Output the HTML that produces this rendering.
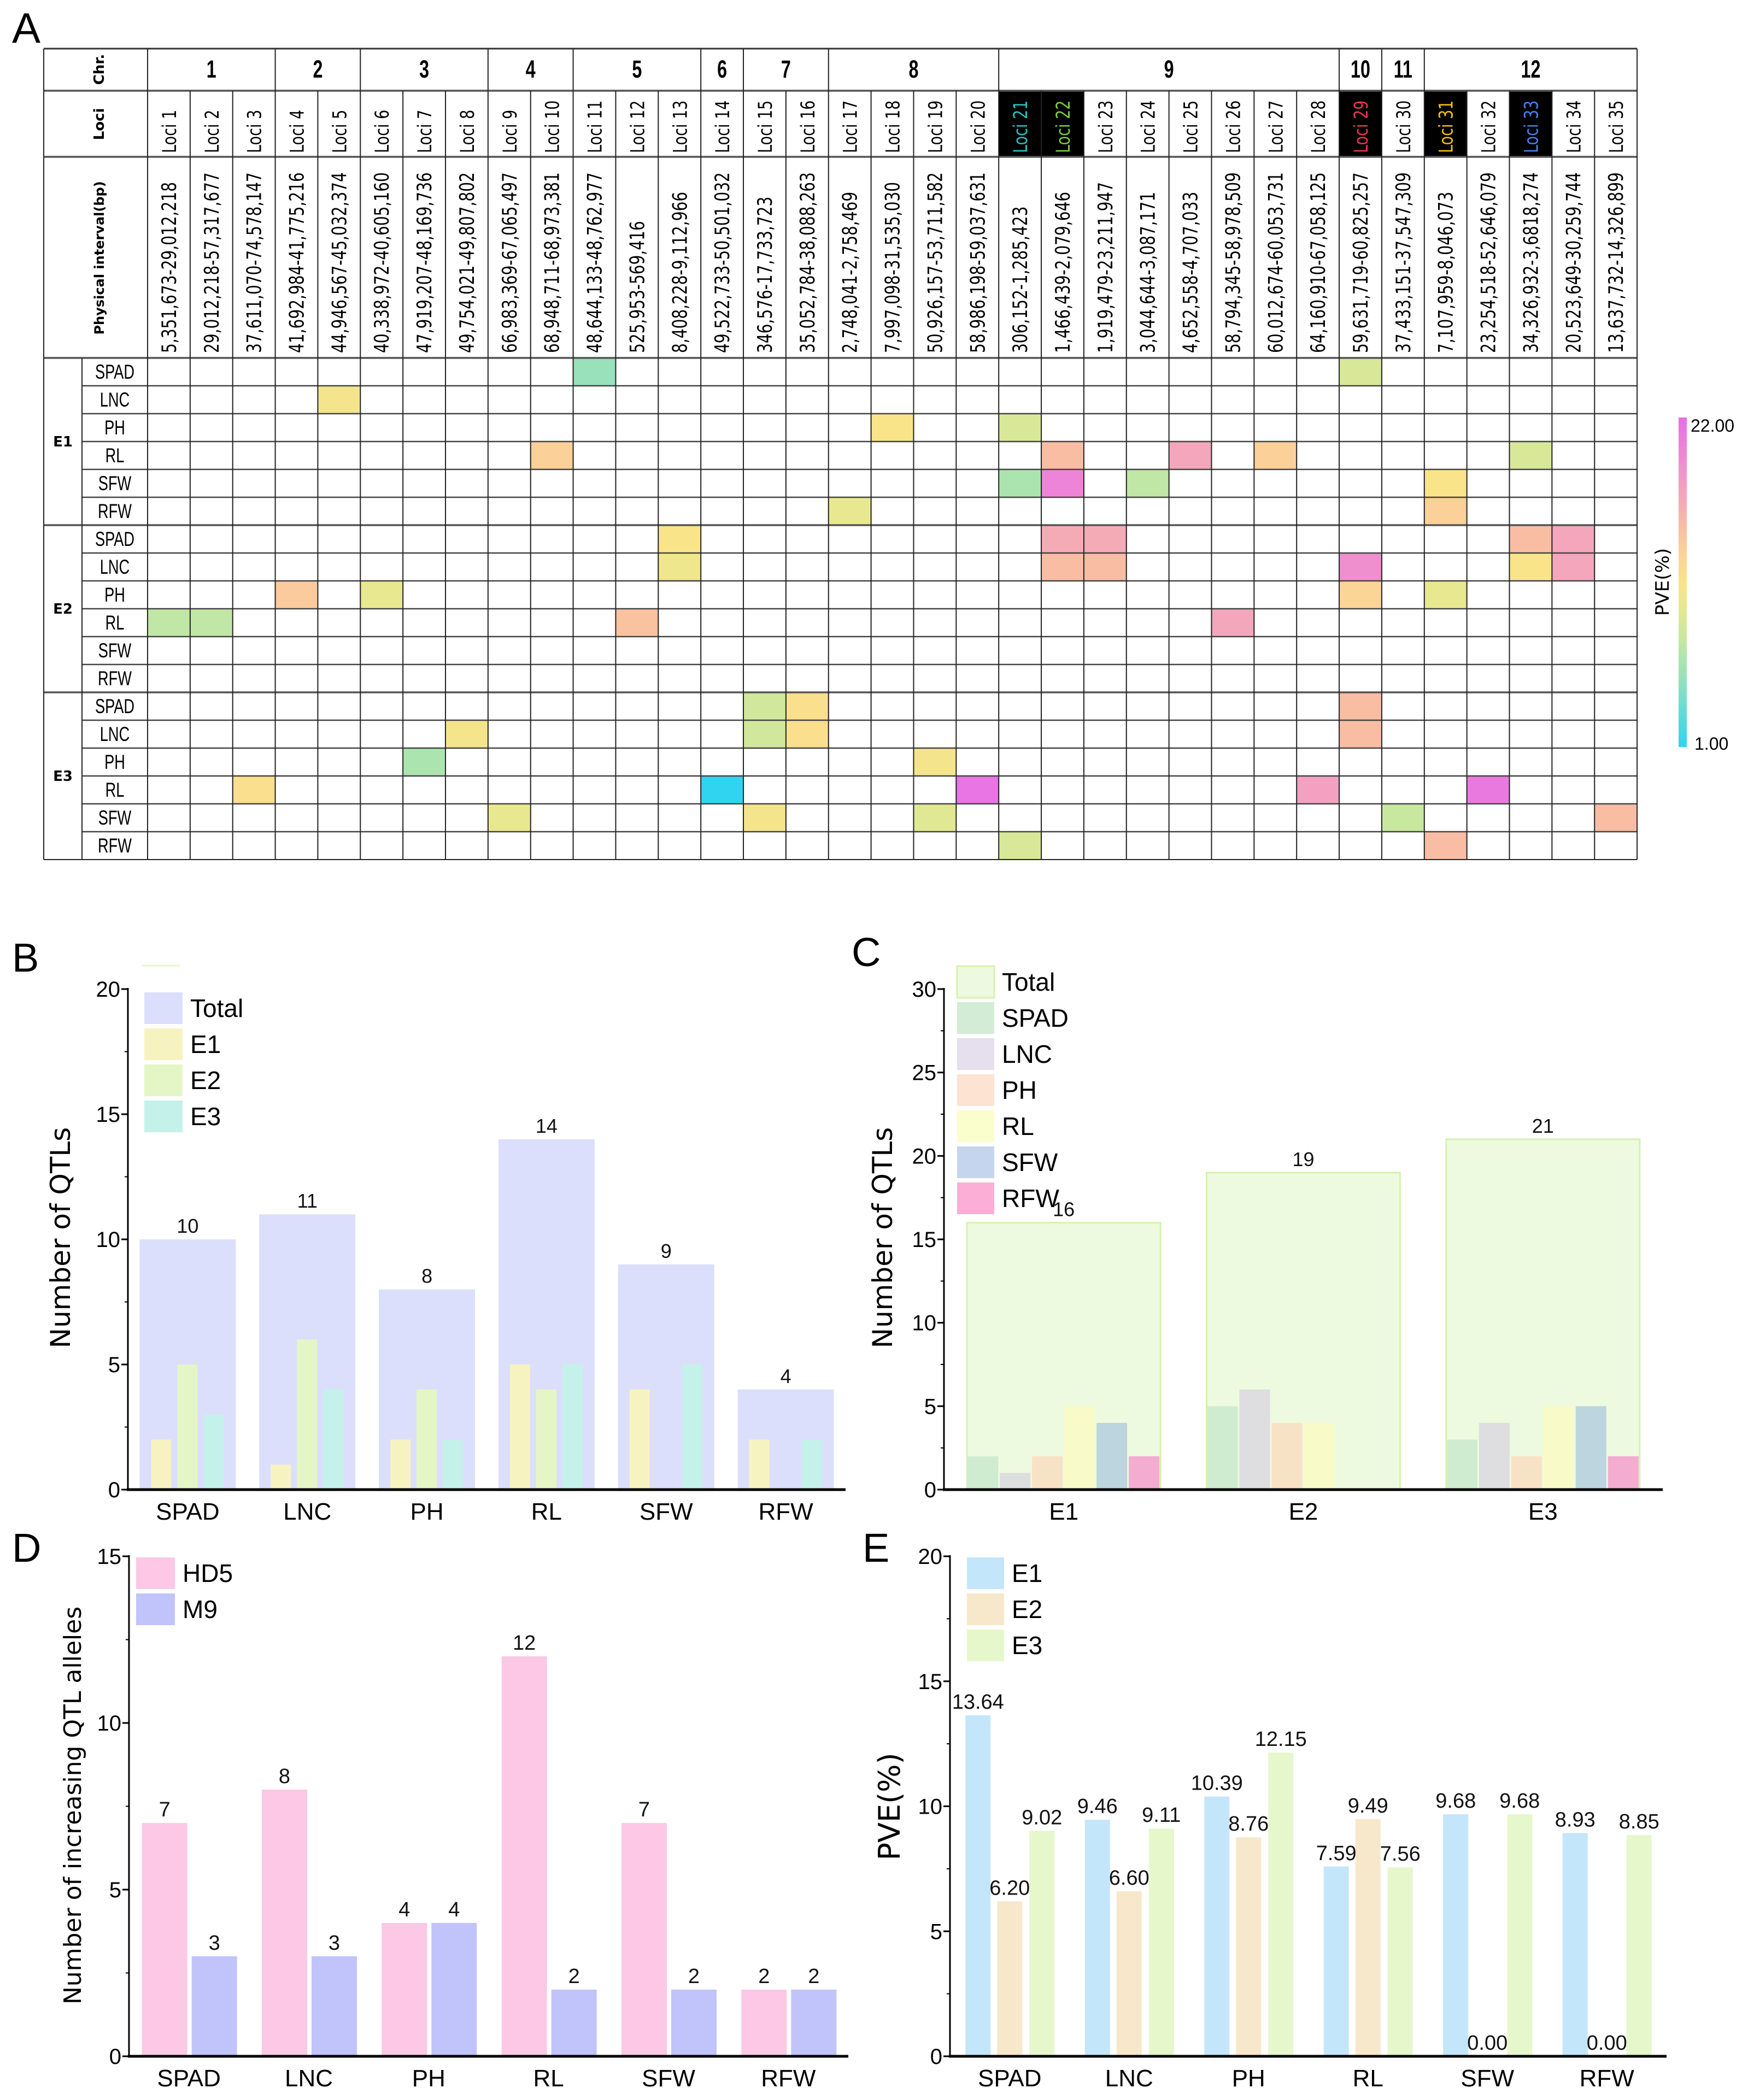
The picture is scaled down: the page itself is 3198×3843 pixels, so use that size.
<!DOCTYPE html>
<html><head><meta charset="utf-8">
<style>
html,body{margin:0;padding:0;background:#fff;}
svg{display:block;}
.n{font-family:"Liberation Sans Narrow","Liberation Sans",sans-serif;}
.d{font-family:"DejaVu Sans","Liberation Sans",sans-serif;}
</style></head>
<body>
<svg id="fig" xmlns="http://www.w3.org/2000/svg" width="3198" height="3843" viewBox="0 0 3198 3843">
<defs>
<linearGradient id="pveGrad" x1="0" y1="1" x2="0" y2="0">
<stop offset="0" stop-color="#30d4f0"/>
<stop offset="0.19" stop-color="#8ee0c0"/>
<stop offset="0.33" stop-color="#c8e8a0"/>
<stop offset="0.43" stop-color="#e8e890"/>
<stop offset="0.50" stop-color="#fae48a"/>
<stop offset="0.60" stop-color="#fccf9a"/>
<stop offset="0.67" stop-color="#f9bca4"/>
<stop offset="0.76" stop-color="#f4a6bc"/>
<stop offset="1" stop-color="#e86ee8"/>
</linearGradient>
</defs>
<g id="panelA"></g>
<g id="panelB"></g>
<g id="panelC"></g>
<g id="panelD"></g>
<g id="panelE"></g>
</svg>
<script>
// ---------- Panel A data ----------
var chrNames = ["1","2","3","4","5","6","7","8","9","10","11","12"];
var chrLociCount = [3,2,3,2,3,1,2,4,8,1,1,5];
var intervals = ["5,351,673-29,012,218","29,012,218-57,317,677","37,611,070-74,578,147","41,692,984-41,775,216","44,946,567-45,032,374","40,338,972-40,605,160","47,919,207-48,169,736","49,754,021-49,807,802","66,983,369-67,065,497","68,948,711-68,973,381","48,644,133-48,762,977","525,953-569,416","8,408,228-9,112,966","49,522,733-50,501,032","346,576-17,733,723","35,052,784-38,088,263","2,748,041-2,758,469","7,997,098-31,535,030","50,926,157-53,711,582","58,986,198-59,037,631","306,152-1,285,423","1,466,439-2,079,646","1,919,479-23,211,947","3,044,644-3,087,171","4,652,558-4,707,033","58,794,345-58,978,509","60,012,674-60,053,731","64,160,910-67,058,125","59,631,719-60,825,257","37,433,151-37,547,309","7,107,959-8,046,073","23,254,518-52,646,079","34,326,932-3,6818,274","20,523,649-30,259,744","13,637,732-14,326,899"];
var highlightLoci = [21,22,29,31,33];
var highlightColors = ["#22c4c4","#7ccf3a","#e8384a","#f0c000","#4a7ef0"];
var envNames = ["E1","E2","E3"];
var traitNames = ["SPAD","LNC","PH","RL","SFW","RFW"];
var cellEnv   = [0,0, 0, 0,0, 0,0,0,0,0, 0,0,0,0, 0,0, 1,1,1,1,1, 1,1,1,1,1,1, 1,1,1,1, 1,1,1,1, 2,2,2, 2,2,2,2, 2,2, 2,2,2,2,2, 2,2,2,2,2, 2,2];
var cellTrait = [0,0, 1, 2,2, 3,3,3,3,3, 4,4,4,4, 5,5, 0,0,0,0,0, 1,1,1,1,1,1, 2,2,2,2, 3,3,3,3, 0,0,0, 1,1,1,1, 2,2, 3,3,3,3,3, 4,4,4,4,4, 5,5];
var cellLocus = [11,29, 5, 18,21, 10,22,25,27,33, 21,22,24,31, 17,31, 13,22,23,33,34, 13,22,23,29,33,34, 4,6,29,31, 1,2,12,26, 15,16,29, 8,15,16,29, 7,19, 3,14,20,28,32, 9,15,19,30,35, 21,31];
var cellPVE   = [5.5,9, 11, 11.5,9, 13.5,15,17,13.5,9, 6.5,20,7.5,11.5, 10,13.5, 11.5,16.5,16.5,15,17, 10.5,15,15,19,11.5,17, 14,10,13,10, 7.5,7.5,14.5,17, 8.5,12,15, 11,8.5,12,15, 6.5,11, 12,1,21.5,17.5,21, 10,11,9.5,8,15, 9,15];
var pveMin = 1, pveMax = 22;

// ---------- Panel B data ----------
var bCats = ["SPAD","LNC","PH","RL","SFW","RFW"];
var bTotal = [10,11,8,14,9,4];
var bE1 = [2,1,2,5,4,2];
var bE2 = [5,6,4,4,0,0];
var bE3 = [3,4,2,5,5,2];
var bTicks = [0,5,10,15,20];

// ---------- Panel C data ----------
var cCats = ["E1","E2","E3"];
var cTotal = [16,19,21];
var cSPAD = [2,5,3];
var cLNC = [1,6,4];
var cPH = [2,4,2];
var cRL = [5,4,5];
var cSFW = [4,0,5];
var cRFW = [2,0,2];
var cTicks = [0,5,10,15,20,25,30];

// ---------- Panel D data ----------
var dCats = ["SPAD","LNC","PH","RL","SFW","RFW"];
var dHD5 = [7,8,4,12,7,2];
var dM9 = [3,3,4,2,2,2];
var dTicks = [0,5,10,15];

// ---------- Panel E data ----------
var eCats = ["SPAD","LNC","PH","RL","SFW","RFW"];
var eE1 = [13.64,9.46,10.39,7.59,9.68,8.93];
var eE2 = [6.20,6.60,8.76,9.49,0.00,0.00];
var eE3 = [9.02,9.11,12.15,7.56,9.68,8.85];
var eTicks = [0,5,10,15,20];

var NS = "http://www.w3.org/2000/svg";
function mk(parent, tag, attrs, text) {
  var el = document.createElementNS(NS, tag);
  for (var k in attrs) el.setAttribute(k, attrs[k]);
  if (text !== undefined) el.textContent = text;
  parent.appendChild(el);
  return el;
}
function hex(c){return [parseInt(c.substr(1,2),16),parseInt(c.substr(3,2),16),parseInt(c.substr(5,2),16)];}
var stops = [[0,"#30d4f0"],[0.19,"#8ee0c0"],[0.33,"#c8e8a0"],[0.43,"#e8e890"],[0.50,"#fae48a"],[0.60,"#fccf9a"],[0.67,"#f9bca4"],[0.76,"#f4a6bc"],[1,"#e86ee8"]];
function pveColor(v){
  var t = (v - pveMin)/(pveMax - pveMin); t = Math.max(0, Math.min(1, t));
  for (var i=0;i<stops.length-1;i++){
    if (t <= stops[i+1][0]) {
      var f = (t - stops[i][0])/(stops[i+1][0]-stops[i][0]);
      var a = hex(stops[i][1]), b = hex(stops[i+1][1]);
      return "rgb("+Math.round(a[0]+(b[0]-a[0])*f)+","+Math.round(a[1]+(b[1]-a[1])*f)+","+Math.round(a[2]+(b[2]-a[2])*f)+")";
    }
  }
  return stops[stops.length-1][1];
}

// ================= PANEL A =================
(function(){
  var g = document.getElementById("panelA");
  var X0 = 80, XE = 150, XL = 270, LW = 77.86, NL = 35, XR = XL + LW*NL;
  var Y0 = 89, Y1 = 166, Y2 = 287, Y3 = 655, RH = 51, YB = Y3 + RH*18;
  function lx(i){ return XL + LW*(i-1); }
  function ry(r){ return Y3 + RH*r; }

  var t = mk(g,"text",{x:22,y:78,"font-size":78,class:"n",fill:"#000"},"A");
  
  

  for (var k=0;k<cellLocus.length;k++){
    var r = cellEnv[k]*6 + cellTrait[k];
    var c = mk(g,"rect",{x:lx(cellLocus[k]),y:ry(r),width:LW,height:RH,fill:pveColor(cellPVE[k])});
    
    
  }
  for (var h=0;h<highlightLoci.length;h++){
    var hb = mk(g,"rect",{x:lx(highlightLoci[h]),y:Y1,width:LW,height:Y2-Y1,fill:"#000"});
    
    
  }
  var L = mk(g,"g",{stroke:"#222","stroke-width":2});
  
  
  [Y0,Y1,Y2,Y3].forEach(function(y,i){ mk(L,"line",{x1:X0,x2:XR,y1:y,y2:y,"stroke-width":i==0?3:3.5,stroke:i==0?"#333":"#555"}); });
  for (var r=1;r<18;r++){
    var full = (r%6==0);
    mk(L,"line",{x1:full?X0:XE,x2:XR,y1:ry(r),y2:ry(r),"stroke-width":full?3.5:2.5,stroke:full?"#555":"#444"});
  }
  mk(L,"line",{x1:X0,x2:XR,y1:YB,y2:YB});
  mk(L,"line",{x1:X0,x2:X0,y1:Y0,y2:YB});
  mk(L,"line",{x1:XE,x2:XE,y1:Y3,y2:YB});
  mk(L,"line",{x1:XL,x2:XL,y1:Y0,y2:YB});
  mk(L,"line",{x1:XR,x2:XR,y1:Y0,y2:YB});
  for (var i=2;i<=NL;i++) mk(L,"line",{x1:lx(i),x2:lx(i),y1:Y1,y2:YB});
  var acc = 1;
  for (var c2=0;c2<chrNames.length;c2++){
    var s = acc, e = acc + chrLociCount[c2];
    if (c2>0) mk(L,"line",{x1:lx(s),x2:lx(s),y1:Y0,y2:Y1});
    var ct = mk(g,"text",{x:0,y:0,transform:"translate("+((lx(s)+lx(e))/2)+",142) scale(0.85,1.2)","text-anchor":"middle","font-size":38,"font-weight":"bold",class:"n",fill:"#000"},chrNames[c2]);
    
    
    acc = e;
  }
  function vtext(x,y,txt,size,bold,name,color,anchor,stretch){
    var tt = mk(g,"text",{x:0,y:0,transform:"translate("+x+","+y+") rotate(-90) scale(1,"+(stretch||1)+")","font-size":size,"font-weight":bold?"bold":"normal","text-anchor":anchor||"middle",class:"d",fill:color||"#000"},txt);
    
    
    return tt;
  }
  vtext(190,127,"Chr.",26,true,"chr-header");
  vtext(190,227,"Loci",26,true,"loci-header");
  vtext(190,472,"Physical interval(bp)",24,true,"interval-header");
  for (var i=1;i<=NL;i++){
    var hi = highlightLoci.indexOf(i);
    vtext(lx(i)+LW/2+13,280,"Loci "+i,27,false,"locus-label",hi>=0?highlightColors[hi]:"#000","start",1.3);
    vtext(lx(i)+LW/2+13,646,intervals[i-1],28,false,"interval-label","#000","start",1.3);
  }
  for (var en=0;en<3;en++){
    var et = mk(g,"text",{x:115,y:ry(en*6+3)+9,"text-anchor":"middle","font-size":26,"font-weight":"bold",class:"d",fill:"#000"},envNames[en]);
    
    
    for (var tr=0;tr<6;tr++){
      var tl = mk(g,"text",{x:0,y:0,transform:"translate(210,"+(ry(en*6+tr)+38)+") scale(0.85,1.15)","text-anchor":"middle","font-size":32,class:"n",fill:"#000"},traitNames[tr]);
      
      
    }
  }
  var cb = mk(g,"rect",{x:3071,y:764,width:15,height:603,fill:"url(#pveGrad)"});
  
  
  var c1 = mk(g,"text",{x:3093,y:790,"font-size":32,class:"n",fill:"#000"},"22.00");
  
  
  var c0 = mk(g,"text",{x:3100,y:1372,"font-size":32,class:"n",fill:"#000"},"1.00");
  
  
  vtext(3053,1065,"PVE(%)",34,false,"colorbar-title");
})();

function chart(cfg){
  var g = document.getElementById(cfg.id);
  var ax0 = cfg.ax0, ax1 = cfg.ax1, y0 = cfg.y0, yTop = cfg.yTop, maxV = cfg.ticks[cfg.ticks.length-1];
  function yS(v){ return y0 - (y0 - yTop) * v / maxV; }
  var band = (ax1 - ax0)/cfg.cats.length;
  function xC(i){ return ax0 + band*(i+0.5); }
  var lt = mk(g,"text",{x:cfg.letterX,y:cfg.letterY,"font-size":74,class:"n",fill:"#000"},cfg.letter);
  
  
  cfg.series.forEach(function(s){
    for (var i=0;i<cfg.cats.length;i++){
      var v = s.values[i];
      if (v <= 0 && !s.labelZero) continue;
      var x = xC(i) + s.off;
      if (v > 0){
        var b = mk(g,"rect",{x:x,y:yS(v),width:s.w,height:y0-yS(v),fill:s.color,stroke:s.stroke||"none","stroke-width":s.stroke?3:0});
        
        
      }
      if (s.label){
        var txt = s.fmt ? s.fmt(v) : String(v);
        var vl = mk(g,"text",{x:x+s.w/2,y:yS(v)-12,"text-anchor":"middle","font-size":cfg.valSize||38,class:"n",fill:"#111"},txt);
        
        
      }
    }
  });
  var ax = mk(g,"g",{stroke:"#000"});
  
  
  mk(ax,"line",{x1:ax0,x2:ax0,y1:yTop-2,y2:y0,"stroke-width":3});
  mk(ax,"line",{x1:ax0-2,x2:ax1,y1:y0,y2:y0,"stroke-width":5});
  for (var t=0;t<cfg.ticks.length;t++){
    var y = yS(cfg.ticks[t]);
    mk(ax,"line",{x1:ax0-12,x2:ax0,y1:y,y2:y,"stroke-width":3});
    if (t < cfg.ticks.length-1){
      var ym = yS((cfg.ticks[t]+cfg.ticks[t+1])/2);
      mk(ax,"line",{x1:ax0-6,x2:ax0,y1:ym,y2:ym,"stroke-width":2});
    }
    var tl = mk(g,"text",{x:ax0-14,y:y+14,"text-anchor":"end","font-size":40,class:"n",fill:"#000"},String(cfg.ticks[t]));
    
    
  }
  for (var i=0;i<cfg.cats.length;i++){
    var cl = mk(g,"text",{x:xC(i),y:y0+55,"text-anchor":"middle","font-size":44,class:"n",fill:"#000"},cfg.cats[i]);
    
    
  }
  var ti = mk(g,"text",{x:0,y:0,transform:"translate("+cfg.titleX+","+cfg.titleY+") rotate(-90)","text-anchor":"middle","font-size":cfg.titleSize,class:"d",fill:"#000"},cfg.title);
  
  
  cfg.legend.forEach(function(l,k){
    var ly = cfg.legY + k*cfg.legStep;
    var sw = mk(g,"rect",{x:cfg.legX,y:ly,width:cfg.legW,height:cfg.legStep-8,fill:l.color,stroke:l.stroke||"none","stroke-width":l.stroke?3:0});
    
    
    var lt2 = mk(g,"text",{x:cfg.legX+cfg.legW+14,y:ly+(cfg.legStep-8)/2+16,"font-size":46,class:"n",fill:"#000"},l.name);
    
    
  });
}

chart({id:"panelB",letter:"B",letterX:22,letterY:1778,ax0:234,ax1:1547,y0:2726,yTop:1810,ticks:bTicks,cats:bCats,
  title:"Number of QTLs",titleX:128,titleY:2265,titleSize:50,valSize:36,
  series:[
    {name:"Total",values:bTotal,color:"#dcdffb",off:-88,w:176,label:true},
    {name:"E1",values:bE1,color:"#f7f3c0",off:-67,w:37},
    {name:"E2",values:bE2,color:"#e4f6c6",off:-19,w:37},
    {name:"E3",values:bE3,color:"#c4f2ea",off:29,w:37}],
  legX:264,legY:1816,legStep:66,legW:70,
  legend:[{name:"Total",color:"#dcdffb"},{name:"E1",color:"#f7f3c0"},{name:"E2",color:"#e4f6c6"},{name:"E3",color:"#c4f2ea"}]});
(function(){var g=document.getElementById("panelB");var l=mk(g,"line",{x1:260,x2:330,y1:1767,y2:1767,stroke:"#e8f6c8","stroke-width":3});

})();

chart({id:"panelC",letter:"C",letterX:1558,letterY:1768,ax0:1727,ax1:3042,y0:2726,yTop:1810,ticks:cTicks,cats:cCats,
  title:"Number of QTLs",titleX:1632,titleY:2265,titleSize:50,valSize:36,
  series:[
    {name:"Total",values:cTotal,color:"#eefadf",stroke:"#d6f2b0",off:-177,w:354,label:true},
    {name:"SPAD",values:cSPAD,color:"#d0ecd0",off:-176,w:56},
    {name:"LNC",values:cLNC,color:"#dedde0",off:-117,w:56},
    {name:"PH",values:cPH,color:"#f8e2c6",off:-58,w:56},
    {name:"RL",values:cRL,color:"#f8fbc8",off:1,w:56},
    {name:"SFW",values:cSFW,color:"#bcd5de",off:60,w:56},
    {name:"RFW",values:cRFW,color:"#f4acd0",off:119,w:56}],
  legX:1751,legY:1768,legStep:66,legW:68,
  legend:[{name:"Total",color:"#eefadf",stroke:"#d6f2b0"},{name:"SPAD",color:"#d3ecd5"},{name:"LNC",color:"#e5dfee"},{name:"PH",color:"#fde3d2"},{name:"RL",color:"#fafdcc"},{name:"SFW",color:"#c6d5ee"},{name:"RFW",color:"#fcaed6"}]});

chart({id:"panelD",letter:"D",letterX:22,letterY:2858,ax0:236,ax1:1552,y0:3763,yTop:2848,ticks:dTicks,cats:dCats,
  title:"Number of increasing QTL alleles",titleX:148,titleY:3304,titleSize:44,valSize:38,
  series:[
    {name:"HD5",values:dHD5,color:"#fcc8e6",off:-86,w:83,label:true},
    {name:"M9",values:dM9,color:"#c0c4fa",off:5,w:83,label:true}],
  legX:249,legY:2850,legStep:66,legW:71,
  legend:[{name:"HD5",color:"#fcc8e6"},{name:"M9",color:"#c0c4fa"}]});

chart({id:"panelE",letter:"E",letterX:1578,letterY:2858,ax0:1738,ax1:3049,y0:3763,yTop:2848,ticks:eTicks,cats:eCats,
  title:"PVE(%)",titleX:1646,titleY:3306,titleSize:54,valSize:38,
  series:[
    {name:"E1",values:eE1,color:"#c4e6fb",off:-81,w:46,label:true,labelZero:true,fmt:function(v){return v.toFixed(2);}},
    {name:"E2",values:eE2,color:"#f8e8cb",off:-23,w:46,label:true,labelZero:true,fmt:function(v){return v.toFixed(2);}},
    {name:"E3",values:eE3,color:"#e6f7cc",off:36,w:46,label:true,labelZero:true,fmt:function(v){return v.toFixed(2);}}],
  legX:1769,legY:2850,legStep:66,legW:68,
  legend:[{name:"E1",color:"#c4e6fb"},{name:"E2",color:"#f8e8cb"},{name:"E3",color:"#e6f7cc"}]});
</script>
</body></html>
